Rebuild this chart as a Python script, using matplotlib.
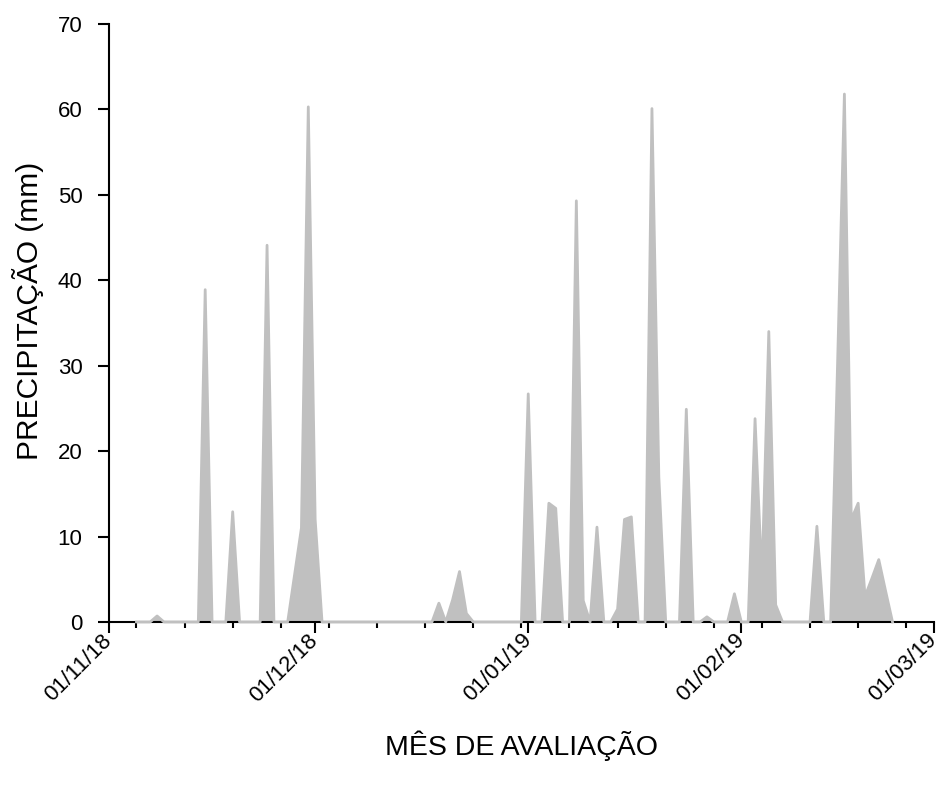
import numpy as np
import pandas as pd
import matplotlib
matplotlib.use('Agg')
import matplotlib.pyplot as plt
import matplotlib.dates as mdates

# rainy days (mm), everything else in the record is zero
rain_dates = ['2018-11-08', '2018-11-15', '2018-11-19', '2018-11-24', '2018-11-28',
              '2018-11-29', '2018-11-30', '2018-12-01', '2018-12-19', '2018-12-21',
              '2018-12-22', '2018-12-23', '2019-01-01', '2019-01-04', '2019-01-05',
              '2019-01-08', '2019-01-09', '2019-01-11', '2019-01-14', '2019-01-15',
              '2019-01-16', '2019-01-19', '2019-01-20', '2019-01-24', '2019-01-27',
              '2019-01-31', '2019-02-03', '2019-02-04', '2019-02-05', '2019-02-06',
              '2019-02-12', '2019-02-15', '2019-02-16', '2019-02-17', '2019-02-18',
              '2019-02-19', '2019-02-20', '2019-02-21', '2019-02-22']
rain_mm = [0.7, 38.9, 12.9, 44.1, 5.5,
           11.0, 60.3, 12.0, 2.2, 2.6,
           5.9, 1.0, 26.7, 13.9, 13.3,
           49.3, 2.5, 11.1, 1.5, 12.0,
           12.3, 60.1, 17.0, 24.9, 0.6,
           3.3, 23.8, 4.9, 34.0, 2.0,
           11.2, 30.0, 61.8, 12.0, 13.9,
           3.0, 5.1, 7.3, 3.6]
record_start = '2018-11-05'
record_end = '2019-02-23'

days = pd.date_range(record_start, record_end, freq='D')
rain = pd.Series(rain_mm, index=pd.to_datetime(rain_dates)).reindex(days, fill_value=0.0)

fig = plt.figure(figsize=(9.41, 7.87), dpi=100)
ax = fig.add_axes([0.1158, 0.2097, 0.8765, 0.7598])

gray = '#c0c0c0'
ax.fill_between(rain.index, 0, rain.values, color=gray, linewidth=0, zorder=1)
ax.plot(rain.index, rain.values, color=gray, lw=2, zorder=3, clip_on=False)

ax.set_xlim(pd.Timestamp('2018-11-01'), pd.Timestamp('2019-03-01'))
ax.set_ylim(0, 70)
ax.set_yticks(np.arange(0, 71, 10))

ax.xaxis.set_major_locator(mdates.MonthLocator())
ax.xaxis.set_major_formatter(mdates.DateFormatter('%d/%m/%y'))
ax.xaxis.set_minor_locator(mdates.WeekdayLocator(byweekday=mdates.MO))

for s in ['top', 'right']:
    ax.spines[s].set_visible(False)
ax.spines['left'].set_linewidth(1.5)
ax.spines['bottom'].set_linewidth(1.5)
ax.spines['bottom'].set_zorder(2)

ax.tick_params(axis='both', which='major', direction='out', length=8, width=1.5,
               labelsize=16)
ax.tick_params(axis='y', which='major', pad=11)
ax.tick_params(axis='x', which='major', pad=3)
ax.tick_params(axis='x', which='minor', direction='out', length=4, width=1.5)
for lab in ax.get_xticklabels():
    lab.set_rotation(45)
    lab.set_ha('right')
    lab.set_va('center')
    lab.set_rotation_mode('anchor')
    lab.set_fontfamily('Liberation Sans')
for lab in ax.get_yticklabels():
    lab.set_fontfamily('Liberation Sans')

ax.set_xlabel('MÊS DE AVALIAÇÃO', fontsize=20.5, family='Liberation Sans')
ax.xaxis.set_label_coords(0.5, -0.182)
ax.xaxis.label.set_va('top')
ax.set_ylabel('PRECIPITAÇÃO (mm)', fontsize=21.5, family='Liberation Sans')
ax.yaxis.set_label_coords(-0.079, 0.52)

fig.savefig('out.png', dpi=100)
